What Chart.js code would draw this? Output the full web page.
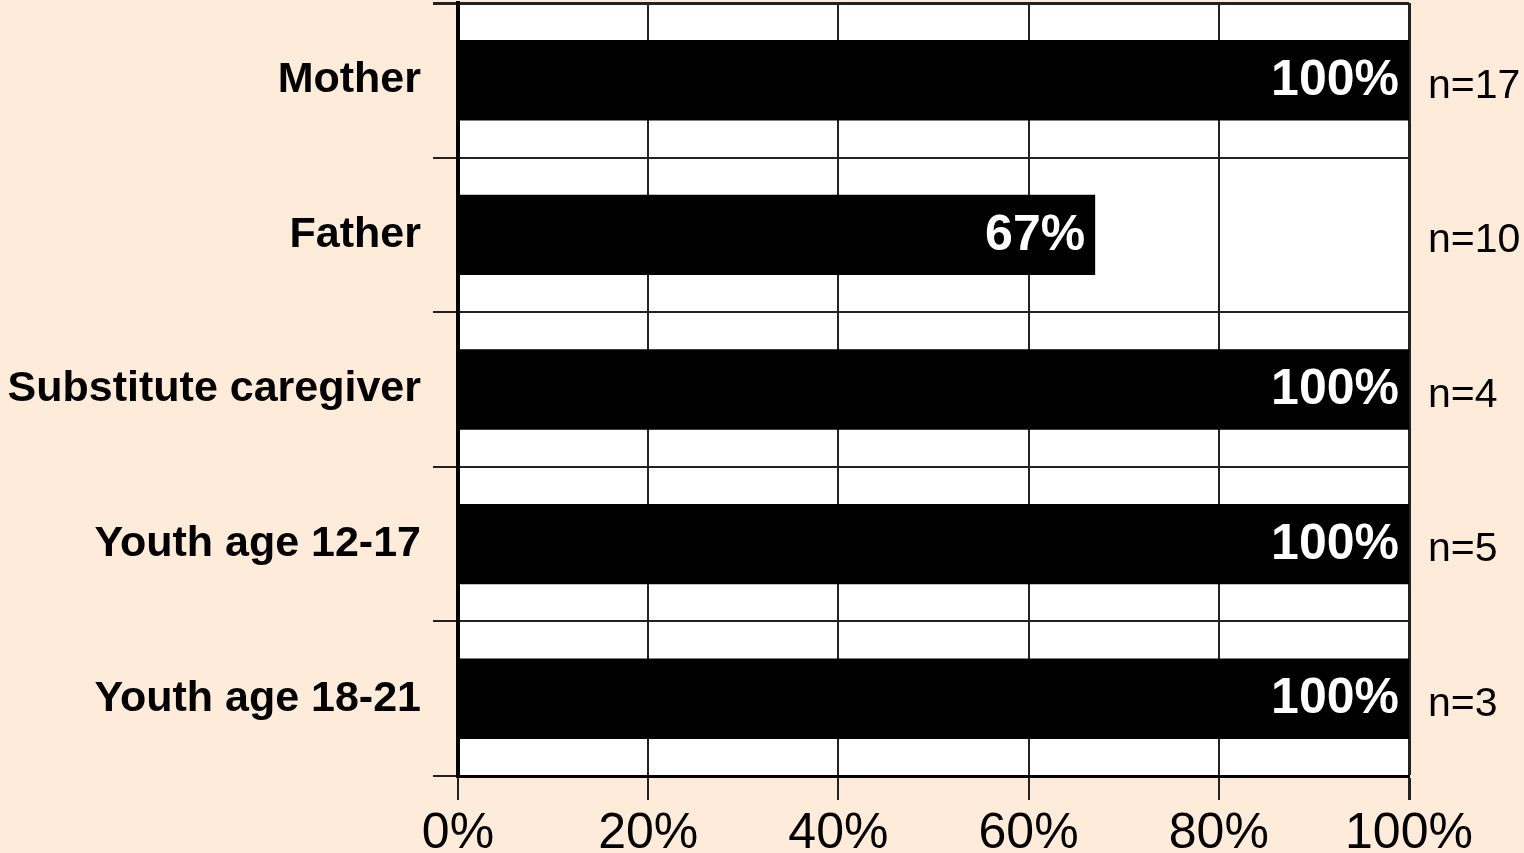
<!DOCTYPE html>
<html>
<head>
<meta charset="utf-8">
<script src="https://cdn.jsdelivr.net/npm/chart.js@4/dist/chart.umd.min.js"></script>
<style>
    html, body { margin: 0; padding: 0; background: #FEEBD9; }
    #wrap { width: 1524px; height: 853px; }
</style>
</head>
<body>
<div id="wrap"><canvas id="respondentChart"></canvas></div>
<script>
// Share of respondents by role, with group sizes shown on the right
const categories = ['Mother', 'Father', 'Substitute caregiver', 'Youth age 12-17', 'Youth age 18-21'];
const percentages = [100, 67, 100, 100, 100];
const groupSizes = [17, 10, 4, 5, 3];
const xTicks = [0, 20, 40, 60, 80, 100];

const sizeLabels = groupSizes.map(n => 'n=' + n);
const FONT = '"Liberation Sans", Arial, Helvetica, sans-serif';

// vertical axes: fixed width and no extra room reserved above/below for labels
function fixVertical(width) {
    return scale => {
        scale.width = width;
        scale.paddingTop = 0;
        scale.paddingBottom = 0;
    };
}

/**
 * White plot area on the peach page
 */
const plotBackground = {
    id: 'plotBackground',
    beforeDraw(chart) {
        const { ctx, chartArea: a } = chart;
        ctx.save();
        ctx.fillStyle = '#ffffff';
        ctx.fillRect(a.left, a.top, a.right - a.left, a.bottom - a.top);
        ctx.restore();
    }
};

/**
 * Percentage written in white at the end of each bar
 */
const barValues = {
    id: 'barValues',
    afterDatasetsDraw(chart) {
        const { ctx } = chart;
        const meta = chart.getDatasetMeta(0);
        ctx.save();
        ctx.fillStyle = '#ffffff';
        ctx.font = 'bold 50px ' + FONT;
        ctx.textAlign = 'right';
        ctx.textBaseline = 'middle';
        meta.data.forEach((bar, i) => {
            ctx.fillText(percentages[i] + '%', bar.x - 10, bar.y + 1);
        });
        ctx.restore();
    }
};

new Chart(document.getElementById('respondentChart'), {
    type: 'bar',
    data: {
        labels: categories,
        datasets: [{
            data: percentages,
            backgroundColor: '#000000',
            borderWidth: 0,
            categoryPercentage: 1,
            barPercentage: 0.52,
            yAxisID: 'y'
        }]
    },
    options: {
        indexAxis: 'y',
        responsive: true,
        maintainAspectRatio: false,
        animation: false,
        layout: { padding: { top: 3, left: 0, right: 0, bottom: 0 } },
        plugins: {
            legend: { display: false },
            tooltip: { enabled: false }
        },
        scales: {
            x: {
                min: 0,
                max: 100,
                afterBuildTicks: scale => {
                    scale.ticks = xTicks.map(v => ({ value: v }));
                },
                afterFit: scale => {
                    scale.height = 77;
                    scale.paddingLeft = 0;
                    scale.paddingRight = 0;
                },
                grid: {
                    color: '#222222',
                    // last line doubles as the right edge of the frame
                    lineWidth: ctx => (ctx.index === xTicks.length - 1 ? 3 : 2),
                    tickLength: 24
                },
                border: { color: '#000000', width: 3 },
                ticks: {
                    color: '#000000',
                    padding: 4,
                    maxRotation: 0,
                    font: { family: FONT, size: 50 },
                    callback: value => value + '%'
                }
            },
            y: {
                position: 'left',
                afterFit: fixVertical(458),
                grid: {
                    offset: true,
                    color: '#222222',
                    lineWidth: ctx => (ctx.index === 0 ? 3 : 2),
                    tickLength: 25
                },
                border: { color: '#000000', width: 4 },
                ticks: {
                    color: '#000000',
                    padding: 12,
                    font: { family: FONT, size: 43, weight: 'bold' }
                }
            },
            n: {
                type: 'category',
                position: 'right',
                labels: sizeLabels,
                offset: true,
                afterFit: fixVertical(115),
                grid: { display: false, drawTicks: false },
                border: { display: false },
                ticks: {
                    color: '#000000',
                    padding: 19,
                    labelOffset: 6,
                    font: { family: FONT, size: 41 }
                }
            }
        }
    },
    plugins: [plotBackground, barValues]
});
</script>
</body>
</html>
